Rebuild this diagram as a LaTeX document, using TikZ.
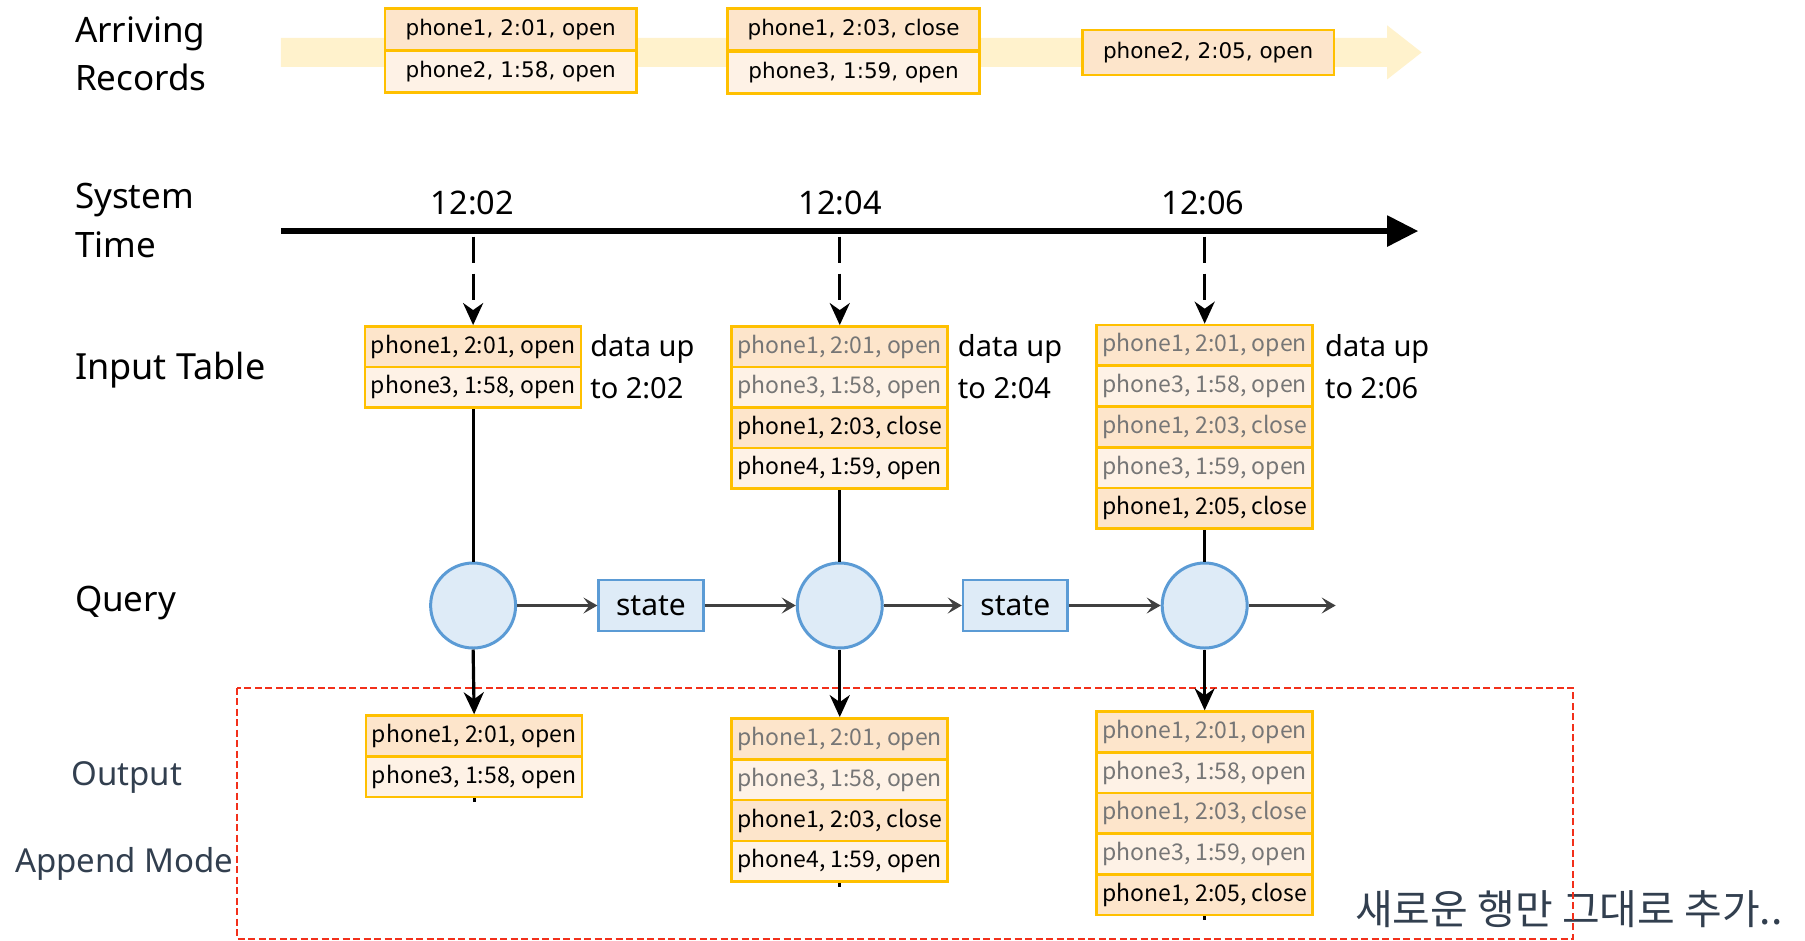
\documentclass[tikz,border=0pt]{standalone}
\usepackage{fontspec}
\setmainfont{Noto Sans}
\newfontfamily\recfont{DejaVu Sans}
\newfontfamily\rowfont[WordSpace=0.55]{Noto Sans CJK KR}
\newfontfamily\krfont{Noto Sans CJK KR}
\usetikzlibrary{arrows.meta}

\definecolor{cGold}{HTML}{FFC000}
\definecolor{cDark}{HTML}{FDE5CB}
\definecolor{cLight}{HTML}{FEF2E6}
\definecolor{cBand}{HTML}{FFF2CC}
\definecolor{cQfill}{HTML}{DEEBF7}
\definecolor{cQline}{HTML}{5B9BD5}
\definecolor{cFlow}{HTML}{404040}
\definecolor{cOld}{HTML}{767676}
\definecolor{cSlate}{HTML}{323F4F}
\definecolor{cMode}{HTML}{F2301B}

\begin{document}
\begin{tikzpicture}[x=1.1512pt, y=-1.1512pt,
  lab/.style={anchor=base west, inner sep=0pt, font=\fontsize{35}{40}\selectfont},
  side/.style={lab, font=\fontsize{29}{32}\selectfont},
  modelab/.style={lab, text=cSlate, font=\fontsize{33}{36}\selectfont},
  clock/.style={anchor=base, inner sep=0pt, font=\fontsize{32.5}{36}\selectfont},
  recbox/.style={draw=cGold, line width=2.6pt, minimum width=251.7pt, minimum height=42pt,
    inner sep=0pt, font=\recfont\fontsize{21.5}{24}\selectfont},
  recA/.style={recbox, fill=cDark},
  recB/.style={recbox, fill=cLight},
  cell/.style={draw=cGold, line width=2.6pt, minimum width=216pt, minimum height=40.7pt,
    inner sep=0pt, font=\rowfont\fontsize{23}{26}\selectfont},
  cellA/.style={cell, fill=cDark},
  cellB/.style={cell, fill=cLight},
  old/.style={text=cOld},
  query/.style={circle, draw=cQline, fill=cQfill, line width=3pt, minimum size=85pt, inner sep=0pt},
  statebox/.style={draw=cQline, fill=cQfill, line width=2.5pt, minimum width=104.6pt,
    minimum height=50.6pt, inner sep=0pt, font=\fontsize{30}{32}\selectfont},
  flow/.style={draw=cFlow, line width=3.2pt, -{Stealth[length=14pt, width=16pt, inset=6pt]}},
  feed/.style={draw=black, line width=3.2pt},
  down/.style={feed, -{Stealth[length=22pt, width=20pt, inset=7pt]}},
  tick/.style={down, dash pattern=on 26pt off 11pt},
  axis/.style={draw=black, line width=5.5pt, -{Triangle[length=31pt, width=30pt]}}
]
\useasboundingbox (0,0) rectangle (1568,817);

% incoming stream band
\fill[cBand] (244,33) -- (1205,33) -- (1205,22) -- (1235,45.5) -- (1205,69)
  -- (1205,58) -- (244,58) -- cycle;

% arriving records
\node[recA] (a1) at (443.7,25.6) {phone1, 2:01, open};
\node[recB] (a2) at (443.7,62.2) {phone2, 1:58, open};
\node[recA] (a3) at (741.5,25.6) {phone1, 2:03, close};
\node[recB] (a4) at (741.5,63.2) {phone3, 1:59, open};
\node[recA, minimum height=45pt] (a5) at (1049.5,45.5) {phone2, 2:05, open};

% row labels
\node[lab] (arr1) at (65,37) {Arriving};
\node[lab] (arr2) at (65,78.7) {Records};
\node[lab] (sys1) at (65,181) {System};
\node[lab] (sys2) at (65,224) {Time};
\node[lab, font=\fontsize{36}{40}\selectfont] (inp) at (65,330) {Input Table};
\node[lab] (qry) at (65,531) {Query};
\node[modelab] (out1) at (62,682) {Output};
\node[modelab] (out2) at (13,758) {Append Mode};

% note on the output mode
\node[anchor=base west, inner sep=0pt, text=cSlate, font=\krfont\fontsize{41}{45}\selectfont]
  (note) at (1177,803) {새로운 행만 그대로 추가..};

% output region
\draw[cMode, line width=2pt, dash pattern=on 7pt off 3.5pt] (205.5,597.3) rectangle (1366.5,815.3);

% system time axis
\coordinate (axL) at (244,200.7);
\coordinate (axR) at (1232,200.7);
\draw[axis] (axL) -- (axR);
\node[clock] (t1) at (410.4,186) {12:02};
\node[clock] (t2) at (730,186) {12:04};
\node[clock] (t3) at (1045,186) {12:06};
\coordinate (k1) at (411,205.6);
\coordinate (k2) at (729.5,205.6);
\coordinate (k3) at (1046.5,205.6);

% input tables
\node[cellA] (i1a) at (411,301.2) {phone1, 2:01, open};
\node[cellB] (i1b) at (411,336.4) {phone3, 1:58, open};
\node[side] (d1a) at (512.6,310) {data up};
\node[side] (d1b) at (512.6,346) {to 2:02};

\node[cellA, old] (i2a) at (729.5,301.2) {phone1, 2:01, open};
\node[cellB, old] (i2b) at (729.5,336.4) {phone3, 1:58, open};
\node[cellA] (i2c) at (729.5,371.7) {phone1, 2:03, close};
\node[cellB] (i2d) at (729.5,406.9) {phone4, 1:59, open};
\node[side] (d2a) at (832,310) {data up};
\node[side] (d2b) at (832,346) {to 2:04};

\node[cellA, old] (i3a) at (1046.5,300) {phone1, 2:01, open};
\node[cellB, old] (i3b) at (1046.5,335.4) {phone3, 1:58, open};
\node[cellA, old] (i3c) at (1046.5,370.8) {phone1, 2:03, close};
\node[cellB, old] (i3d) at (1046.5,406.2) {phone3, 1:59, open};
\node[cellA] (i3e) at (1046.5,441.6) {phone1, 2:05, close};
\node[side] (d3a) at (1151,310) {data up};
\node[side] (d3b) at (1151,346) {to 2:06};

% query steps and state
\node[query] (q1) at (411,526) {};
\node[query] (q2) at (729.5,526) {};
\node[query] (q3) at (1046.5,526) {};
\node[statebox] (st1) at (565.5,526) {state};
\node[statebox] (st2) at (882,526) {state};
\coordinate (qend) at (1160.3,526);

% output tables
\node[cellA] (o1a) at (411.9,639.3) {phone1, 2:01, open};
\node[cellB] (o1b) at (411.9,674.6) {phone3, 1:58, open};

\node[cellA, old] (o2a) at (729.5,641.75) {phone1, 2:01, open};
\node[cellB, old] (o2b) at (729.5,677.25) {phone3, 1:58, open};
\node[cellA] (o2c) at (729.5,712.75) {phone1, 2:03, close};
\node[cellB] (o2d) at (729.5,748.25) {phone4, 1:59, open};

\node[cellA, old] (o3a) at (1046.5,635.9) {phone1, 2:01, open};
\node[cellB, old] (o3b) at (1046.5,671.2) {phone3, 1:58, open};
\node[cellA, old] (o3c) at (1046.5,706.5) {phone1, 2:03, close};
\node[cellB, old] (o3d) at (1046.5,741.8) {phone3, 1:59, open};
\node[cellA] (o3e) at (1046.5,777.1) {phone1, 2:05, close};

\coordinate (e1) at (411.9,697);
\coordinate (e2) at (729.5,770.5);
\coordinate (e3) at (1046.5,799.5);

% trigger arrows
\draw[tick] (k1) -- (i1a.north);
\draw[tick] (k2) -- (i2a.north);
\draw[tick] (k3) -- (i3a.north);

% table into query, query into output
\draw[feed] (i1b.south) -- (q1.north);
\draw[feed] (i2d.south) -- (q2.north);
\draw[feed] (i3e.south) -- (q3.north);
\draw[down] (q1.south) -- (o1a.north);
\draw[down] (q2.south) -- (o2a.north);
\draw[down] (q3.south) -- (o3a.north);
\draw[feed] (o1b.south) -- (e1);
\draw[feed] (o2d.south) -- (e2);
\draw[feed] (o3e.south) -- (e3);

% state carried between steps
\draw[flow] (q1.east) -- (st1.west);
\draw[flow] (st1.east) -- (q2.west);
\draw[flow] (q2.east) -- (st2.west);
\draw[flow] (st2.east) -- (q3.west);
\draw[flow] (q3.east) -- (qend);
\end{tikzpicture}
\end{document}
